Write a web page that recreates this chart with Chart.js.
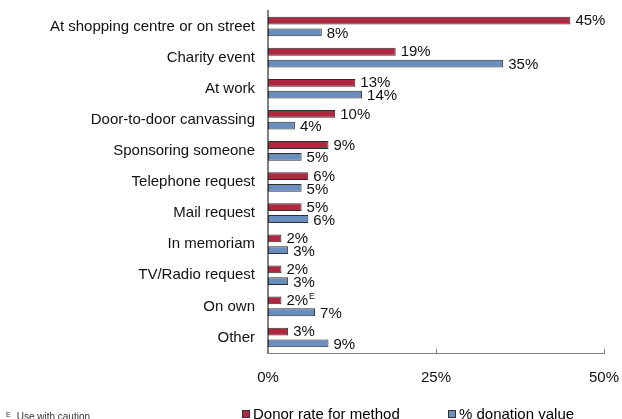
<!DOCTYPE html>
<html>
<head>
<meta charset="utf-8">
<script src="https://cdn.jsdelivr.net/npm/chart.js@4.4.1/dist/chart.umd.min.js"></script>
<style>
  html, body { margin: 0; padding: 0; background: #ffffff; }
  #wrap { position: relative; width: 622px; height: 419px; overflow: hidden; }
  #chart { position: absolute; left: 0; top: 0; }
  .legend { position: absolute; top: 405px; font: 15px "Liberation Sans", Arial, sans-serif; color: #000; white-space: nowrap; }
  .legend .box { display: inline-block; width: 6px; height: 6px; border: 1px solid #333; margin-right: 3px; vertical-align: 1px; }
  .note { position: absolute; left: 6px; top: 411px; font: 10px "Liberation Sans", Arial, sans-serif; color: #333; white-space: nowrap; }
  .note sup { font-size: 7px; vertical-align: 3px; margin-right: 6px; }
</style>
</head>
<body>
<div id="wrap">
  <canvas id="chart" width="622" height="419"></canvas>
  <div class="legend" id="leg1" style="left:242px"><span class="box" id="box1"></span><span id="lab1"></span></div>
  <div class="legend" id="leg2" style="left:448px"><span class="box" id="box2"></span><span id="lab2"></span></div>
  <div class="note"><sup>E</sup>Use with caution</div>
</div>
<script>
// Methods of giving
const categories = [
  'At shopping centre or on street',
  'Charity event',
  'At work',
  'Door-to-door canvassing',
  'Sponsoring someone',
  'Telephone request',
  'Mail request',
  'In memoriam',
  'TV/Radio request',
  'On own',
  'Other'
];

// Percent of donors who gave through each method
const donorRate = [45, 19, 13, 10, 9, 6, 5, 2, 2, 2, 3];
// Share of total donation value given through each method
const donationValue = [8, 35, 14, 4, 5, 5, 6, 3, 3, 7, 9];
// Estimates to be used with caution (flag on donor rate)
const donorRateCaution = [false, false, false, false, false, false, false, false, false, true, false];

const seriesNames = ['Donor rate for method', '% donation value'];
const xTicks = [0, 25, 50];

const RED = '#B0283F';
const BLUE = '#6A8EBE';
const EDGE = '#2e2e2e';
const FONT = '"Liberation Sans", Arial, sans-serif';

document.getElementById('lab1').textContent = seriesNames[0];
document.getElementById('lab2').textContent = seriesNames[1];
document.getElementById('box1').style.background = RED;
document.getElementById('box2').style.background = BLUE;

// Value labels at the end of each bar
const valueLabels = {
  id: 'valueLabels',
  afterDatasetsDraw(chart) {
    const ctx = chart.ctx;
    ctx.save();
    ctx.fillStyle = '#111';
    ctx.textBaseline = 'middle';
    ctx.textAlign = 'left';
    chart.data.datasets.forEach((ds, di) => {
      const meta = chart.getDatasetMeta(di);
      meta.data.forEach((bar, i) => {
        const v = ds.data[i];
        const txt = v + '%';
        const x = bar.x + 5;
        const y = bar.y + (di === 1 ? 1.5 : 0.5);
        ctx.font = '15px ' + FONT;
        ctx.fillText(txt, x, y);
        if (di === 0 && donorRateCaution[i]) {
          const w = ctx.measureText(txt).width;
          ctx.font = '9px ' + FONT;
          ctx.fillText('E', x + w + 1, y - 4);
        }
      });
    });
    ctx.restore();
  }
};

// Short inward tick marks on the value axis
const innerTicks = {
  id: 'innerTicks',
  afterDraw(chart) {
    const sx = chart.scales.x;
    const ctx = chart.ctx;
    ctx.save();
    ctx.strokeStyle = '#808080';
    ctx.lineWidth = 1;
    sx.ticks.forEach(t => {
      const px = Math.round(sx.getPixelForValue(t.value)) + 0.5;
      ctx.beginPath();
      ctx.moveTo(px, sx.top);
      ctx.lineTo(px, sx.top - 4);
      ctx.stroke();
    });
    ctx.restore();
  }
};

new Chart(document.getElementById('chart'), {
  type: 'bar',
  data: {
    labels: categories,
    datasets: [
      {
        label: seriesNames[0],
        data: donorRate,
        backgroundColor: RED,
        borderColor: EDGE,
        borderWidth: 1,
        borderSkipped: false,
        categoryPercentage: 0.76,
        barPercentage: 0.66
      },
      {
        label: seriesNames[1],
        data: donationValue,
        backgroundColor: BLUE,
        borderColor: EDGE,
        borderWidth: 1,
        borderSkipped: false,
        categoryPercentage: 0.76,
        barPercentage: 0.66
      }
    ]
  },
  options: {
    indexAxis: 'y',
    responsive: false,
    animation: false,
    layout: { padding: { top: 11, right: 18, left: 0, bottom: 0 } },
    plugins: {
      legend: { display: false },
      tooltip: { enabled: false }
    },
    scales: {
      x: {
        min: 0,
        max: 50,
        afterBuildTicks(scale) {
          scale.ticks = xTicks.map(v => ({ value: v }));
        },
        afterFit(scale) {
          scale.height = 66;
          scale.paddingLeft = 0;
          scale.paddingRight = 0;
        },
        grid: { display: false, drawTicks: false },
        border: { display: true, color: '#808080', width: 1 },
        ticks: {
          padding: 16,
          color: '#111',
          font: { family: FONT, size: 15 },
          maxRotation: 0,
          callback: v => v + '%'
        }
      },
      y: {
        afterFit(scale) {
          scale.width = 268;
          scale.paddingTop = 0;
          scale.paddingBottom = 0;
        },
        grid: { display: false, drawTicks: false },
        border: { display: true, color: '#808080', width: 2 },
        ticks: {
          padding: 13,
          color: '#111',
          font: { family: FONT, size: 15 },
          autoSkip: false
        }
      }
    }
  },
  plugins: [valueLabels, innerTicks]
});
</script>
</body>
</html>
